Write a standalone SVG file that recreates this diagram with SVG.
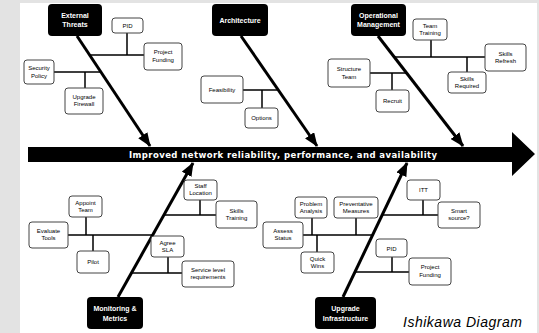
<svg xmlns="http://www.w3.org/2000/svg" width="539" height="333" viewBox="0 0 539 333">
<defs>
<style>
.hd{fill:#000}
.hdt{fill:#fff;font-family:"Liberation Sans",Arial,sans-serif;font-weight:bold;font-size:7px;text-anchor:middle}
.bx{fill:#fff;stroke:#444;stroke-width:1}
.bt{fill:#000;font-family:"Liberation Sans",Arial,sans-serif;font-size:6px;text-anchor:middle}
.br{stroke:#000;stroke-width:1.5;fill:none}
.sp{stroke:#000;stroke-width:3;fill:none;marker-end:url(#ah)}
</style>
<marker id="ah" viewBox="0 0 14 11" refX="13" refY="5.5" markerWidth="14" markerHeight="11" markerUnits="userSpaceOnUse" orient="auto">
<path d="M0,0 L14,5.5 L0,11 z" fill="#000"/>
</marker>
</defs>
<rect x="0" y="0" width="539" height="333" fill="#e3e3e3"/>
<rect x="20" y="3" width="517" height="330" fill="#fff"/>

<g id="effect">
<polygon points="28,147 512,147 512,132 535,154 512,176 512,162 28,162" fill="#000"/>
<text x="283" y="158" fill="#fff" font-family="DejaVu Sans,Verdana,sans-serif" font-weight="bold" font-size="8.5" text-anchor="middle" textLength="308" lengthAdjust="spacing">Improved network reliability, performance, and availability</text>
</g>

<g id="connectors">
<line class="sp" x1="77" y1="36" x2="150" y2="146"/>
<line class="sp" x1="241" y1="36" x2="317" y2="146"/>
<line class="sp" x1="378" y1="36" x2="463" y2="146"/>
<line class="sp" x1="118" y1="297" x2="193" y2="163"/>
<line class="sp" x1="343" y1="297" x2="407" y2="163"/>
<path class="br" d="M90,55 H144 M127,33 V55 M54,72 H101 M85,72 V88"/>
<path class="br" d="M243,90 H278 M262,90 V108"/>
<path class="br" d="M394,57 H485 M431,40 V57 M467,57 V72 M370,73 H406 M392,73 V90"/>
<path class="br" d="M164,215 H216 M200,200 V215 M68,235 H153 M86,217 V235 M93,235 V251 M168,257 V273 M131,273 H182"/>
<path class="br" d="M382,215 H438 M423,200 V215 M303,235 H373 M312,218 V235 M356,218 V235 M317,235 V252 M355,272 H409 M392,257 V272"/>
</g>

<g id="external-threats"><rect class="hd" x="48" y="4" width="54" height="32" rx="4"/><text class="hdt" x="75" y="17.5">External</text><text class="hdt" x="75" y="27">Threats</text></g>
<g id="architecture"><rect class="hd" x="212" y="4" width="56" height="32" rx="4"/><text class="hdt" x="240" y="22.5">Architecture</text></g>
<g id="operational-management"><rect class="hd" x="351" y="4" width="55" height="32" rx="4"/><text class="hdt" x="378.5" y="17.5">Operational</text><text class="hdt" x="378.5" y="27">Management</text></g>
<g id="monitoring-metrics"><rect class="hd" x="87" y="297" width="56" height="32" rx="4"/><text class="hdt" x="115" y="310.5">Monitoring &amp;</text><text class="hdt" x="115" y="320.5">Metrics</text></g>
<g id="upgrade-infrastructure"><rect class="hd" x="315" y="297" width="61" height="32" rx="4"/><text class="hdt" x="345.5" y="310.5">Upgrade</text><text class="hdt" x="345.5" y="320.5">Infrastructure</text></g>

<g id="pid-1"><rect class="bx" x="112" y="18" width="31" height="15" rx="3"/><text class="bt" x="127.5" y="28">PID</text></g>
<g id="project-funding-1"><rect class="bx" x="144" y="43" width="38" height="27" rx="3"/><text class="bt" x="163" y="54">Project</text><text class="bt" x="163" y="62">Funding</text></g>
<g id="security-policy"><rect class="bx" x="24" y="60" width="30" height="24" rx="3"/><text class="bt" x="39" y="70">Security</text><text class="bt" x="39" y="78">Policy</text></g>
<g id="upgrade-firewall"><rect class="bx" x="65" y="88" width="38" height="26" rx="3"/><text class="bt" x="84" y="99">Upgrade</text><text class="bt" x="84" y="106">Firewall</text></g>
<g id="feasibility"><rect class="bx" x="201" y="76" width="42" height="27" rx="3"/><text class="bt" x="222" y="92">Feasibility</text></g>
<g id="options"><rect class="bx" x="245" y="108" width="33" height="20" rx="3"/><text class="bt" x="261.5" y="120">Options</text></g>
<g id="structure-team"><rect class="bx" x="328" y="59" width="42" height="28" rx="3"/><text class="bt" x="349" y="71">Structure</text><text class="bt" x="349" y="79">Team</text></g>
<g id="recruit"><rect class="bx" x="376" y="90" width="33" height="22" rx="3"/><text class="bt" x="392.5" y="103">Recruit</text></g>
<g id="team-training"><rect class="bx" x="413" y="19" width="34" height="21" rx="3"/><text class="bt" x="430" y="28">Team</text><text class="bt" x="430" y="35">Training</text></g>
<g id="skills-refresh"><rect class="bx" x="485" y="44" width="41" height="27" rx="3"/><text class="bt" x="505.5" y="56">Skills</text><text class="bt" x="505.5" y="63">Refresh</text></g>
<g id="skills-required"><rect class="bx" x="448" y="72" width="38" height="21" rx="3"/><text class="bt" x="467" y="81">Skills</text><text class="bt" x="467" y="88">Required</text></g>
<g id="staff-location"><rect class="bx" x="184" y="180" width="33" height="20" rx="3"/><text class="bt" x="200.5" y="188">Staff</text><text class="bt" x="200.5" y="195">Location</text></g>
<g id="skills-training"><rect class="bx" x="216" y="201" width="41" height="27" rx="3"/><text class="bt" x="236.5" y="213">Skills</text><text class="bt" x="236.5" y="220">Training</text></g>
<g id="evaluate-tools"><rect class="bx" x="29" y="222" width="39" height="26" rx="3"/><text class="bt" x="48.5" y="233">Evaluate</text><text class="bt" x="48.5" y="240">Tools</text></g>
<g id="appoint-team"><rect class="bx" x="69" y="196" width="33" height="21" rx="3"/><text class="bt" x="85.5" y="205">Appoint</text><text class="bt" x="85.5" y="212">Team</text></g>
<g id="pilot"><rect class="bx" x="77" y="251" width="32" height="22" rx="3"/><text class="bt" x="93" y="264">Pilot</text></g>
<g id="agree-sla"><rect class="bx" x="151" y="236" width="33" height="21" rx="3"/><text class="bt" x="167.5" y="245">Agree</text><text class="bt" x="167.5" y="252">SLA</text></g>
<g id="service-level"><rect class="bx" x="182" y="261" width="52" height="26" rx="3"/><text class="bt" x="208" y="272">Service level</text><text class="bt" x="208" y="279">requirements</text></g>
<g id="itt"><rect class="bx" x="407" y="180" width="33" height="20" rx="3"/><text class="bt" x="423.5" y="192">ITT</text></g>
<g id="smart-source"><rect class="bx" x="438" y="202" width="42" height="26" rx="3"/><text class="bt" x="459" y="213">Smart</text><text class="bt" x="459" y="220">source?</text></g>
<g id="assess-status"><rect class="bx" x="263" y="222" width="40" height="26" rx="3"/><text class="bt" x="283" y="233">Assess</text><text class="bt" x="283" y="240">Status</text></g>
<g id="problem-analysis"><rect class="bx" x="295" y="197" width="32" height="21" rx="3"/><text class="bt" x="311" y="206">Problem</text><text class="bt" x="311" y="213">Analysis</text></g>
<g id="preventative-measures"><rect class="bx" x="334" y="197" width="44" height="21" rx="3"/><text class="bt" x="356" y="206">Preventative</text><text class="bt" x="356" y="213">Measures</text></g>
<g id="quick-wins"><rect class="bx" x="301" y="252" width="33" height="21" rx="3"/><text class="bt" x="317.5" y="261">Quick</text><text class="bt" x="317.5" y="268">Wins</text></g>
<g id="pid-2"><rect class="bx" x="376" y="239" width="31" height="18" rx="3"/><text class="bt" x="391.5" y="250.5">PID</text></g>
<g id="project-funding-2"><rect class="bx" x="409" y="258" width="42" height="27" rx="3"/><text class="bt" x="430" y="269">Project</text><text class="bt" x="430" y="277">Funding</text></g>

<text x="403" y="327" font-family="Liberation Sans,Arial,sans-serif" font-style="italic" font-size="14" textLength="119" lengthAdjust="spacing">Ishikawa Diagram</text>
</svg>
